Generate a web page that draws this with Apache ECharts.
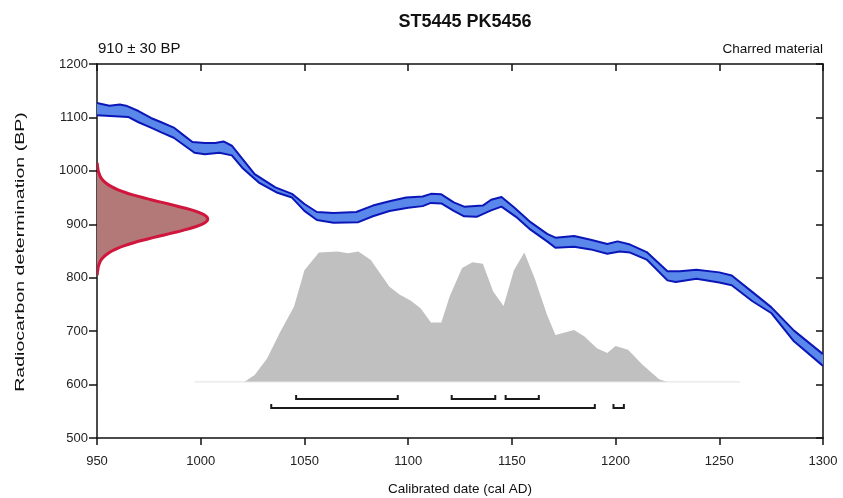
<!DOCTYPE html>
<html>
<head>
<meta charset="utf-8">
<script src="https://cdn.jsdelivr.net/npm/echarts@6/dist/echarts.min.js"></script>
<style>
html,body{margin:0;padding:0;background:#fff;}
#chart{width:843px;height:498px;}
</style>
</head>
<body>
<div id="chart"></div>
<script>
// ---- Data ----
const titleText = 'ST5445 PK5456';
const measLabel = '910 ± 30 BP';
const materialLabel = 'Charred material';
const xAxisTitle = 'Calibrated date (cal AD)';
const yAxisTitle = 'Radiocarbon determination (BP)';
const xTicks = [950, 1000, 1050, 1100, 1150, 1200, 1250, 1300];
const yTicks = [500, 600, 700, 800, 900, 1000, 1100, 1200];

// calibration curve band (cal AD, BP)
const calUpper = [[950,1127],[956,1122],[961,1124],[964,1122],[970,1112],[976,1099],[981,1091],[987,1081],[992,1066],[996,1054],[1002,1052],[1007,1052],[1011,1055],[1015,1047],[1020,1023],[1026,994],[1036,969],[1044,957],[1050,938],[1056,923],[1064,921],[1075,923],[1083,935],[1091,943],[1099,950],[1107,952],[1111,957],[1116,956],[1122,941],[1127,933],[1136,935],[1140,946],[1145,951],[1151,932],[1159,904],[1167,882],[1171,875],[1180,878],[1188,871],[1196,863],[1201,868],[1207,862],[1215,848],[1225,812],[1231,812],[1239,815],[1250,810],[1256,804],[1266,773],[1275,745],[1286,701],[1300,657]];
const calLower = [[950,1104],[965,1101],[970,1091],[976,1081],[981,1072],[987,1062],[992,1048],[997,1034],[1002,1031],[1009,1034],[1015,1029],[1020,1006],[1028,978],[1037,959],[1044,950],[1050,925],[1056,908],[1064,903],[1076,904],[1083,915],[1091,925],[1100,931],[1107,934],[1111,940],[1116,939],[1122,925],[1127,915],[1133,914],[1140,926],[1145,933],[1152,914],[1159,890],[1167,868],[1171,856],[1180,858],[1188,853],[1196,845],[1202,849],[1207,847],[1215,834],[1225,795],[1229,792],[1239,798],[1250,791],[1256,786],[1266,756],[1275,734],[1286,681],[1300,635]];

// measurement distribution: BP values and width (years from axis)
const measBP    = [1015,1010,1005,1000,995,990,985,980,975,970,965,960,955,950,945,940,935,930,925,920,915,910,905,900,895,890,885,880,875,870,865,860,855,850,845,840,835,830,825,820,815,810,805];
const measWidth = [0.1,0.2,0.4,0.6,1.0,1.5,2.3,3.5,5.1,7.2,9.9,13.3,17.3,22.0,27.0,32.4,37.7,42.8,47.1,50.5,52.7,53.4,52.7,50.5,47.1,42.8,37.7,32.4,27.0,22.0,17.3,13.3,9.9,7.2,5.1,3.5,2.3,1.5,1.0,0.6,0.4,0.2,0.1];

// calibrated probability distribution (cal AD, plotted height on BP axis)
const distBase = 605;
const distYears = [997,1021,1026,1032,1038,1045,1050,1057,1066,1071,1076,1082,1091,1096,1101,1106,1111,1116,1120,1126,1131,1136,1141,1146,1151,1156,1161,1167,1171,1180,1185,1191,1196,1200,1206,1213,1221,1225,1260];
const distVals  = [605,605,618,649,696,746,814,847,849,846,849,833,783,768,758,743,716,716,765,818,829,826,774,747,814,847,799,730,693,702,690,668,659,672,665,637,610,605,605];

// ranges
const ranges68 = [[1046,1095],[1121,1142],[1147,1163]];
const ranges95 = [[1034,1190],[1199,1204]];

// ---- Chart ----
const FONT = "'Liberation Sans', Arial, sans-serif";
const chart = echarts.init(document.getElementById('chart'), null, {renderer:'canvas'});

const distPoly = distYears.map((y,i)=>[y, distVals[i]]);
const measPoly = measBP.map((b,i)=>[950 + measWidth[i], b]);

const option = {
  animation: false,
  backgroundColor: '#fff',
  title: [
    {text: titleText, left: 460, top: 8, textAlign: 'center',
     textStyle:{fontFamily:FONT, fontSize:18, fontWeight:'bold', color:'#111'}},
    {text: measLabel, left: 93, top: 36,
     textStyle:{fontFamily:FONT, fontSize:15, fontWeight:'normal', color:'#111'}},
    {text: materialLabel, right: 15, top: 37,
     textStyle:{fontFamily:FONT, fontSize:13.5, fontWeight:'normal', color:'#111'}}
  ],
  graphic: [
    {type:'text', x:20, y:252, rotation: Math.PI/2, scaleX:1.45, scaleY:1,
     style:{text: yAxisTitle, font: "13.5px 'Liberation Sans', Arial, sans-serif", fill:'#111',
            align:'center', verticalAlign:'middle'}}
  ],
  grid: {left: 97, right: 20, top: 64, bottom: 60, containLabel:false, outerBoundsMode:'none'},
  xAxis: [
    {type:'value', min:950, max:1300, interval:50, position:'bottom',
     name: xAxisTitle, nameLocation:'middle', nameGap:44,
     nameTextStyle:{fontFamily:FONT, fontSize:13.5, color:'#111'},
     axisLine:{show:true, onZero:false, lineStyle:{color:'#111', width:1.5}},
     axisTick:{show:true, inside:false, length:7, lineStyle:{color:'#111', width:1.5}},
     axisLabel:{fontFamily:FONT, fontSize:13, color:'#222', margin:17,
       formatter: v => xTicks.includes(v) ? String(v) : ''},
     splitLine:{show:false}},
    {type:'value', min:950, max:1300, interval:50, position:'top',
     axisLine:{show:true, onZero:false, lineStyle:{color:'#111', width:1.5}},
     axisTick:{show:true, inside:true, length:7, lineStyle:{color:'#111', width:1.5}},
     axisLabel:{show:false}, splitLine:{show:false}}
  ],
  yAxis: [
    {type:'value', min:500, max:1200, interval:100, position:'left',
     axisLine:{show:true, onZero:false, lineStyle:{color:'#111', width:1.5}},
     axisTick:{show:true, inside:false, length:8, lineStyle:{color:'#111', width:1.5}},
     axisLabel:{fontFamily:FONT, fontSize:13, color:'#222', margin:9,
       formatter: v => yTicks.includes(v) ? String(v) : ''},
     splitLine:{show:false}},
    {type:'value', min:500, max:1200, interval:100, position:'right',
     axisLine:{show:true, onZero:false, lineStyle:{color:'#111', width:1.5}},
     axisTick:{show:true, inside:true, length:7, lineStyle:{color:'#111', width:1.5}},
     axisLabel:{show:false}, splitLine:{show:false}}
  ],
  series: [
    {
      type:'custom', name:'calibrated', clip:true, z:2,
      data:[[distYears[0], distBase]],
      renderItem:(params, api) => {
        const pts = distPoly.map(p => api.coord(p));
        pts.push(api.coord([distYears[distYears.length-1], distBase]));
        pts.push(api.coord([distYears[0], distBase]));
        const base = [api.coord([distYears[0], distBase]), api.coord([distYears[distYears.length-1], distBase])];
        return {type:'group', children:[
          {type:'polygon', shape:{points:pts}, style:{fill:'#c0c0c0', stroke:null}},
          {type:'line', shape:{x1:base[0][0], y1:base[0][1], x2:base[1][0], y2:base[1][1]},
           style:{stroke:'#e2e2e2', lineWidth:1}}
        ]};
      }
    },
    {
      type:'custom', name:'curve', clip:true, z:3,
      data:[[950, 1100]],
      renderItem:(params, api) => {
        const up = calUpper.map(p => api.coord(p));
        const lo = calLower.map(p => api.coord(p));
        const poly = up.concat(lo.slice().reverse());
        return {type:'group', children:[
          {type:'polygon', shape:{points:poly}, style:{fill:'#5a87ea', stroke:null}},
          {type:'polyline', shape:{points:up}, style:{fill:null, stroke:'#0b16b8', lineWidth:2, lineJoin:'round'}},
          {type:'polyline', shape:{points:lo}, style:{fill:null, stroke:'#0b16b8', lineWidth:2, lineJoin:'round'}}
        ]};
      }
    },
    {
      type:'custom', name:'measurement', clip:true, z:4,
      data:[[950, 910]],
      renderItem:(params, api) => {
        const pts = measPoly.map(p => api.coord(p));
        const fillPts = [api.coord([950, measBP[0]])].concat(pts, [api.coord([950, measBP[measBP.length-1]])]);
        return {type:'group', children:[
          {type:'polygon', shape:{points:fillPts, smooth:0.2}, style:{fill:'#b37878', stroke:null}},
          {type:'polyline', shape:{points:pts, smooth:0.2}, style:{fill:null, stroke:'#d0163c', lineWidth:3}}
        ]};
      }
    },
    {
      type:'custom', name:'ranges', clip:false, z:5,
      data: ranges68.map(r => [r[0], r[1], 0]).concat(ranges95.map(r => [r[0], r[1], 1])),
      renderItem:(params, api) => {
        const level = api.value(2) === 0 ? 573 : 556;
        const a = api.coord([api.value(0), level]);
        const b = api.coord([api.value(1), level]);
        return {type:'polyline', shape:{points:[[a[0], a[1]-4],[a[0], a[1]],[b[0], b[1]],[b[0], b[1]-4]]},
          style:{fill:null, stroke:'#1a1a1a', lineWidth:2}};
      }
    }
  ]
};
chart.setOption(option);
</script>
</body>
</html>
